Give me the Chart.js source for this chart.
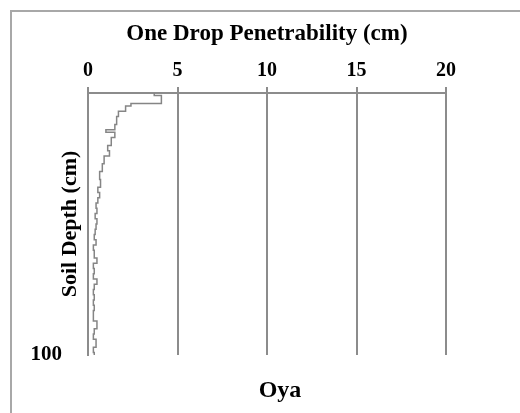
<!DOCTYPE html>
<html>
<head>
<meta charset="utf-8">
<script src="https://cdn.jsdelivr.net/npm/chart.js@4.4.0/dist/chart.umd.min.js"></script>
<style>
  html, body { margin: 0; padding: 0; background: #fff; }
  #wrap { position: relative; width: 520px; height: 413px; }
</style>
</head>
<body>
<div id="wrap"><canvas id="profileChart" width="520" height="413"></canvas></div>
<script>
// depth (cm) where each reading starts, and the one drop penetrability (cm) held down to the next depth
const depthCm = [0, 1, 4, 5, 7, 9, 12, 14, 15, 17, 20, 22, 24, 27, 30, 33, 36, 38, 40, 42, 44, 46, 48, 50,
    52, 54, 56, 58, 60, 63, 65, 67, 69, 71, 73, 75, 77, 79, 81, 83, 85, 87, 90, 92, 94, 97, 99, 100];
const penetrability = [3.7, 4.1, 2.4, 2.1, 1.7, 1.6, 1.5, 1.0, 1.5, 1.3, 1.1, 1.2, 0.9, 0.8, 0.65, 0.7, 0.55, 0.65, 0.55, 0.45, 0.5, 0.4, 0.5, 0.45,
    0.4, 0.35, 0.45, 0.3, 0.35, 0.5, 0.3, 0.35, 0.3, 0.5, 0.35, 0.3, 0.35, 0.3, 0.35, 0.3, 0.3, 0.5, 0.35, 0.3, 0.45, 0.3, 0.35, 0.35];
const xTicks = [0, 5, 10, 15, 20];
const yTickShown = [100];
const siteName = 'Oya';

const serif = "'Liberation Serif', 'Times New Roman', serif";
const axisGrey = '#8c8c8c';

const framePlugin = {
    id: 'frame',
    beforeDraw(chart) {
        const ctx = chart.ctx;
        ctx.save();
        ctx.fillStyle = '#ffffff';
        ctx.fillRect(0, 0, chart.width, chart.height);
        ctx.strokeStyle = '#a8a8a8';
        ctx.lineWidth = 2;
        ctx.beginPath();
        ctx.moveTo(11, chart.height);
        ctx.lineTo(11, 11);
        ctx.lineTo(chart.width, 11);
        ctx.stroke();
        ctx.restore();
    },
    afterDraw(chart) {
        const ctx = chart.ctx;
        ctx.save();
        ctx.fillStyle = '#000';
        ctx.font = 'bold 24px ' + serif;
        ctx.textAlign = 'center';
        ctx.textBaseline = 'middle';
        ctx.fillText(siteName, 280, 391);
        ctx.restore();
    }
};

const points = depthCm.map((d, i) => ({ x: penetrability[i], y: d }));

new Chart(document.getElementById('profileChart'), {
    type: 'scatter',
    data: {
        datasets: [{
            data: points,
            showLine: true,
            stepped: 'after',
            borderColor: '#858585',
            borderWidth: 1.5,
            pointRadius: 0,
            fill: false
        }]
    },
    options: {
        responsive: false,
        animation: false,
        layout: { padding: { left: 0, top: 0, right: 74, bottom: 58 } },
        plugins: {
            legend: { display: false },
            tooltip: { enabled: false }
        },
        scales: {
            x: {
                type: 'linear',
                position: 'top',
                min: 0,
                max: 20,
                afterFit: (scale) => { scale.height = 93; },
                afterBuildTicks: (scale) => { scale.ticks = xTicks.map(v => ({ value: v })); },
                grid: {
                    color: axisGrey,
                    lineWidth: 2,
                    drawTicks: true,
                    tickLength: 6,
                    tickColor: axisGrey
                },
                border: { display: true, color: axisGrey, width: 2 },
                ticks: {
                    color: '#000',
                    padding: 4,
                    font: { family: serif, size: 20, weight: 'bold' }
                },
                title: {
                    display: true,
                    text: 'One Drop Penetrability (cm)',
                    color: '#000',
                    padding: { top: 20, bottom: 0 },
                    font: { family: serif, size: 23, weight: 'bold' }
                }
            },
            y: {
                type: 'linear',
                reverse: true,
                min: 0,
                max: 100,
                afterFit: (scale) => { scale.width = 88; },
                afterBuildTicks: (scale) => { scale.ticks = [0, 100].map(v => ({ value: v })); },
                grid: { display: false, drawTicks: false },
                border: { display: true, color: axisGrey, width: 2 },
                ticks: {
                    color: '#000',
                    padding: 26,
                    font: { family: serif, size: 21, weight: 'bold' },
                    callback: (v) => yTickShown.includes(v) ? String(v) : ''
                },
                title: {
                    display: true,
                    text: 'Soil Depth (cm)',
                    color: '#000',
                    padding: { top: 57, bottom: 0 },
                    font: { family: serif, size: 22, weight: 'bold' }
                }
            }
        }
    },
    plugins: [framePlugin]
});
</script>
</body>
</html>
